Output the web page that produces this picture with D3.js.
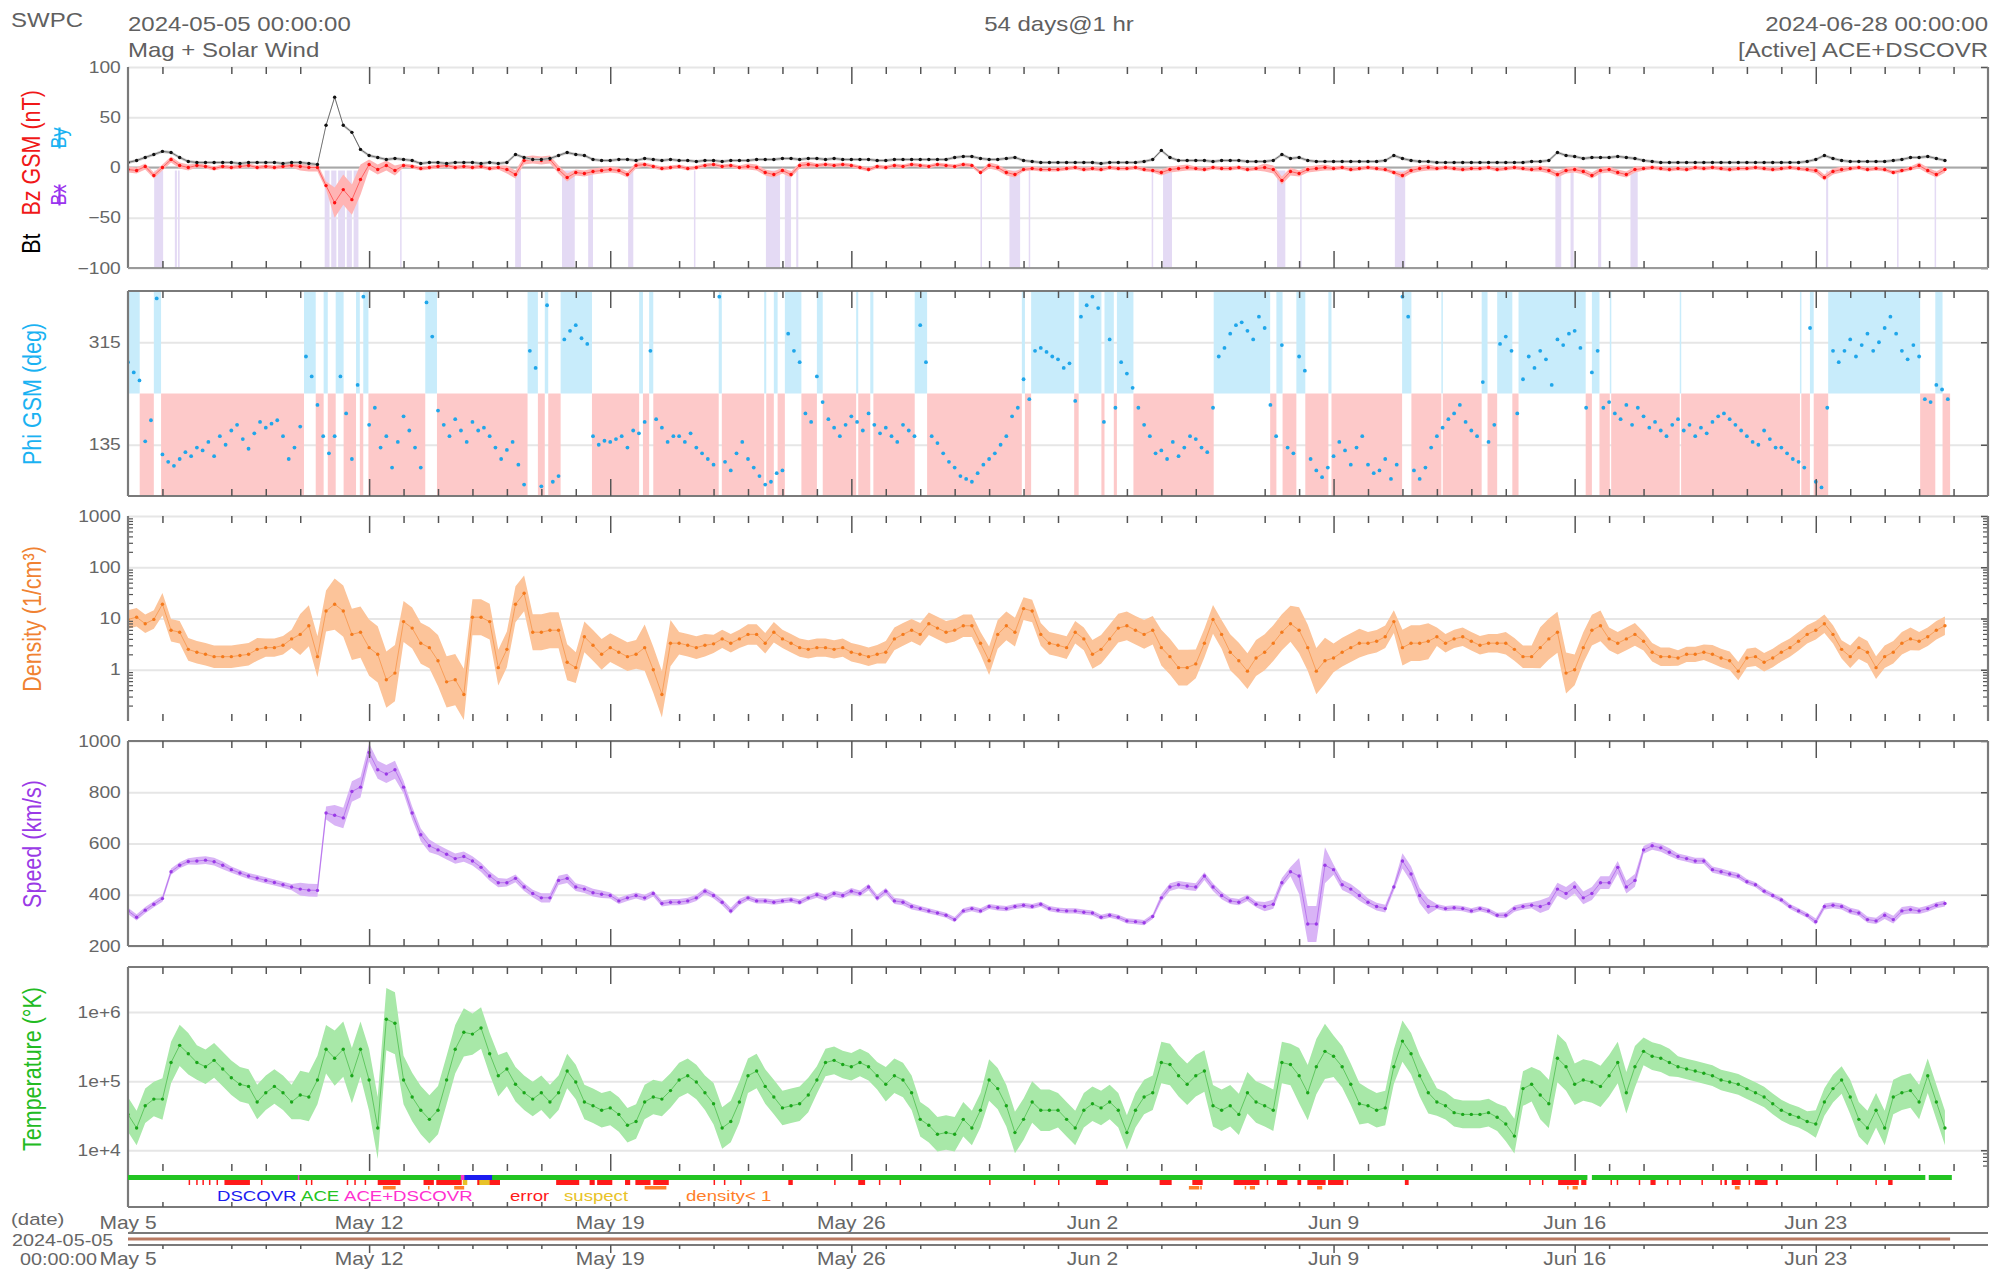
<!DOCTYPE html>
<html>
<head>
<meta charset="utf-8">
<script src="https://cdn.jsdelivr.net/npm/d3@7"></script>
<style>
  body { margin: 0; background: #fff; }
  svg { display: block; font-family: "Liberation Sans", Arial, sans-serif; }
</style>
</head>
<body>
<script>
// ---- data: 2024-05-05 00:00 UTC onwards ----
// Bt / Bz (nT), Speed (km/s), Density (1/cm3), Temperature (1000 K): one value every 6 h
const btVals = [
  5,7,10,13, 16,15,10,6, 5,5,5,5, 5,4,5,5, 5,5,4,5,
  5,4,3,42, 70,42,35,18, 12,10,8,9, 8,7,4,5, 5,4,5,5,
  5,4,5,4, 5,13,10,8, 8,9,12,15, 13,12,8,7, 7,8,8,7,
  9,8,7,8, 7,7,6,7, 7,6,7,7, 7,8,8,8, 9,9,8,9,
  9,8,9,8, 8,8,8,7, 7,8,8,8, 8,8,8,8, 10,11,11,9,
  8,8,9,10, 7,6,5,5, 5,5,5,5, 5,4,5,5, 5,5,6,8,
  17,10,7,7, 7,7,6,7, 7,7,6,6, 6,7,13,9, 10,7,6,6,
  6,6,6,6, 6,6,7,12, 9,7,6,6, 5,5,5,5, 5,5,5,5,
  5,5,5,6, 6,7,15,12, 11,9,10,10, 10,11,10,9, 7,6,5,5,
  5,5,5,5, 5,5,5,5, 5,5,5,5, 5,5,5,6, 8,12,9,7,
  6,6,6,6, 6,7,8,10, 10,11,9,7
]
const bzVals = [
  -2,-3,1,-8, 0,8,2,0, 2,1,-1,1, 0,1,2,0, 1,0,1,2,
  1,0,0,-18, -35,-22,-32,-12, 3,-2,2,-3, 2,1,-1,0, 1,2,0,1,
  0,1,-1,0, -2,-7,7,8, 7,8,-2,-10, -5,-6,-4,-3, -2,-3,-7,2,
  3,1,-1,0, 1,-1,0,2, 3,1,2,0, 1,0,-5,-7, -3,-7,2,3,
  2,3,2,3, 2,0,-2,1, 0,2,1,3, 2,1,3,2, 1,3,2,-5,
  2,0,-5,-7, -2,-1,-2,-2, -2,-1,0,-2, -1,-2,0,-1, -1,0,-2,-3,
  -5,-2,-1,0, -1,-2,0,-1, -1,0,-2,-1, 0,-2,-13,-4, -6,-2,-1,0,
  -1,0,-2,-1, 0,-1,-2,-5, -8,-3,-1,0, -1,0,-1,-2, -1,-1,0,-2,
  -1,0,-1,-2, -1,-3,-7,-3, -2,-4,-8,-3, -2,-5,-7,-2, -1,0,-1,-2,
  -1,-2,0,-1, 0,-1,-2,-1, -1,0,-1,-2, -1,0,-1,-2, -3,-10,-4,-2,
  -1,0,-2,-1, -2,-5,-3,-1, 2,-3,-7,-2
]
const speedVals = [
  337,312,340,363, 385,490,515,530, 532,535,529,515, 498,485,473,465, 456,448,439,430,
  422,418,417,719, 710,700,803,820, 955,888,871,888, 820,719,634,591, 575,558,541,549,
  532,507,473,447, 447,464,430,405, 388,388,456,464, 430,422,408,402, 397,376,388,397,
  388,405,366,371, 371,376,388,414, 397,371,337,371, 388,376,376,371, 376,380,371,388,
  400,388,405,397, 414,405,430,388, 414,376,371,354, 346,337,329,320, 303,337,346,337,
  354,349,346,354, 359,354,363,346, 340,337,337,332, 329,312,320,312, 298,295,291,315,
  388,430,439,434, 430,473,430,397, 376,371,388,363, 354,363,447,490, 473,286,286,515,
  498,439,422,397, 371,354,346,430, 532,481,397,354, 354,346,349,346, 337,346,337,320,
  320,346,354,359, 354,366,422,405, 430,388,405,447, 447,507,430,456, 575,591,583,566,
  549,541,532,532, 498,490,481,473, 451,439,414,397, 380,354,337,320, 295,354,359,354,
  337,329,303,298, 320,303,337,342, 337,346,359,366
]
const densVals = [
  9.6,10.6,7.9,9.6, 19,5.9,5.4,2.5, 2.2,2.0,1.8,1.8, 1.8,1.9,2.0,2.5, 2.7,2.7,3.0,4.0,
  4.9,7.2,1.8,14, 19,14,4.9,5.4, 2.7,2.0,0.64,0.86, 8.7,6.5,3.3,2.7, 1.5,0.58,0.64,0.33,
  10.6,10.6,8.7,1.1, 2.5,19,31,5.4, 5.4,5.9,5.9,1.4, 1.1,4.4,3.0,2.0, 2.7,2.2,1.8,2.0,
  2.7,1.0,0.33,3.3, 3.3,3.0,2.7,3.0, 3.2,4.0,3.3,4.0, 4.9,4.9,3.3,5.4, 4.0,3.3,2.7,2.5,
  2.7,2.7,2.5,2.7, 2.2,2.0,1.8,2.0, 2.2,4.0,4.9,5.9, 4.9,7.9,6.5,5.4, 5.9,7.2,7.2,3.3,
  1.5,4.9,7.2,5.4, 15.6,14,4.9,3.3, 3.0,2.7,5.4,4.0, 2.0,2.5,4.0,6.5, 7.2,5.9,4.9,5.9,
  2.7,1.8,1.1,1.1, 1.3,3.3,9.6,4.9, 2.2,1.5,0.94,1.7, 2.2,3.3,5.4,7.9, 5.9,2.7,0.94,1.5,
  1.7,2.2,2.7,3.3, 3.3,3.6,4.4,8.7, 2.7,3.3,3.3,3.6, 4.4,3.3,4.0,4.4, 3.6,3.0,3.3,3.3,
  3.3,2.5,1.8,1.8, 2.7,4.0,5.4,0.86, 1.0,2.7,5.9,7.2, 4.0,3.3,4.0,4.9, 3.6,2.2,1.8,1.8,
  1.7,2.0,2.0,2.2, 2.0,1.7,1.5,0.94, 1.7,1.8,1.4,1.7, 2.2,2.7,3.6,4.9, 5.9,7.9,4.9,2.5,
  1.8,2.7,2.2,1.1, 1.8,2.2,3.3,4.0, 3.6,4.4,5.9,7.2
]
const tempVals = [
  33,21,44,55, 55,186,330,250, 186,162,200,150, 112,90,84,50, 68,84,68,50,
  63,59,104,290, 215,290,120,290, 104,21,790,690, 104,59,38,28, 38,104,290,510,
  480,590,250,120, 150,90,68,55, 68,50,68,140, 97,50,44,38, 41,33,23,26,
  50,59,55,73, 104,120,97,68, 47,21,26,50, 120,140,84,59, 41,44,47,63,
  104,186,200,174, 162,186,162,120, 90,120,104,68, 28,23,17,18, 17,28,21,38,
  104,78,44,18, 28,50,38,38, 38,28,21,38, 47,41,50,38, 18,38,59,68,
  186,174,120,90, 120,140,44,38, 44,33,68,50, 44,38,186,174, 120,68,162,270,
  230,162,90,47, 44,38,41,162, 380,250,120,68, 50,44,35,33, 33,33,35,30,
  24,16,78,90, 63,47,215,162, 90,104,97,84, 120,186,68,162, 270,230,215,186,
  162,150,140,130, 120,104,97,90, 78,68,59,47, 38,33,30,26, 24,50,78,104,
  59,28,21,38, 21,59,68,73, 50,120,50,21
]
// Phi GSM (deg): one value every 4 h
const phiVals = [
  280,262,248,141,178,392, 118,105,98,110,122,115, 130,125,140,115,150,135, 160,170,145,128,155,175, 165,172,178,150,110,130,
  167,290,255,205,150,120, 150,255,190,110,240,395, 170,200,130,150,95,140, 185,160,130,95,385,325, 195,170,150,180,160,140,
  175,160,165,150,130,110, 126,140,100,65,300,270, 62,380,70,80,320,335, 345,322,312,150,135,142, 140,145,150,130,160,155,
  175,300,180,165,140,150, 150,140,155,130,120,110, 100,395,105,90,120,140, 110,95,80,65,70,85, 90,330,300,280,190,175,
  255,210,180,165,150,170, 185,175,160,190,170,155, 165,150,140,170,160,150, 345,280,150,138,120,105, 95,80,75,70,85,100,
  110,120,135,150,185,200, 250,215,300,305,298,290, 285,270,278,212,360,380, 395,375,175,320,200,280, 260,235,200,170,150,120,
  125,110,140,115,130,150, 145,130,122,200,290,305, 330,345,350,335,320,360, 340,205,150,310,130,120, 290,265,110,90,78,95,
  115,140,125,100,130,150, 100,85,90,110,75,100, 395,360,90,75,95,130, 150,165,180,190,205,175, 160,150,245,140,170,312,
  325,300,190,250,290,270, 300,285,240,320,310,330, 335,305,200,262,300,200, 210,190,180,205,170,200, 185,165,175,160,150,170,
  180,160,170,150,165,155, 175,185,190,180,170,160, 150,140,135,160,145,130, 130,120,110,105,95,340, 70,60,200,300,280,300,
  320,290,310,330,300,315, 340,360,330,300,285,310, 290,215,210,240,232,215
]
// per-day half width of the min/max envelope
const bzSpread    = [3,3,2,2,2,4,15,5,2,2, 2,4,4,3,3,2,2,2,3,3, 2,2,2,2,2,3,2,2,2,2, 3,2,2,4,3,2,2,3,2,2, 2,3,3,3,2,2,2,2,2,3, 2,2,3]
const speedSpread = [12,12,15,12,12,25,40,35,25,20, 18,15,18,15,12,12,12,12,10,10, 12,12,12,10,10,10,10,10,10,10, 15,15,12,18,70,20,15,30,10,10, 12,25,25,25,15,12,12,10,10,12, 12,15,12]
const densSpread  = [0.18,0.22,0.22,0.22,0.18,0.4,0.5,0.55,0.4,0.5, 0.35,0.35,0.35,0.3,0.28,0.45,0.22,0.18,0.2,0.18, 0.18,0.18,0.22,0.22,0.22,0.28,0.22,0.22,0.28,0.28, 0.35,0.28,0.35,0.35,0.45,0.28,0.22,0.35,0.18,0.18, 0.22,0.4,0.3,0.22,0.18,0.15,0.18,0.18,0.18,0.18, 0.22,0.22,0.18]
const tempSpread  = [0.25,0.3,0.25,0.25,0.25,0.35,0.4,0.45,0.35,0.35, 0.3,0.25,0.25,0.25,0.25,0.25,0.25,0.3,0.25,0.25, 0.2,0.2,0.25,0.25,0.25,0.3,0.3,0.25,0.25,0.25, 0.3,0.3,0.3,0.3,0.4,0.3,0.25,0.3,0.2,0.2, 0.25,0.35,0.3,0.3,0.2,0.15,0.15,0.15,0.15,0.2, 0.25,0.25,0.25]

// spans in days since 2024-05-05 00:00
const bzSouthSpans = [[0.76,1.02],[1.36,1.42],[1.45,1.5],[5.71,5.85],[5.9,6.05],[6.1,6.3],[6.35,6.5],[6.55,6.69],[7.9,7.93],
  [11.24,11.41],[12.6,12.97],[13.36,13.5],[14.52,14.67],[16.43,16.46],[18.52,18.93],[19.07,19.25],[19.4,19.46],
  [24.75,24.78],[25.59,25.9],[26.15,26.19],[29.72,29.75],[30.05,30.31],[33.36,33.6],[34.03,34.07],[36.78,37.08],
  [41.44,41.61],[41.88,41.97],[42.68,42.77],[43.62,43.83],[49.3,49.36],[51.36,51.39],[52.45,52.49]]
const awaySpans = [[0,0.34],[0.75,0.96],[5.11,5.45],[5.68,5.8],[6.03,6.26],[6.62,6.73],[6.83,6.98],[8.63,8.97],
  [11.6,11.9],[12.1,12.2],[12.56,13.47],[14.84,14.95],[15.13,15.25],[17.15,17.24],[18.47,18.53],[18.75,18.86],
  [19.07,19.55],[20.0,20.17],[21.14,21.2],[21.55,21.64],[22.84,23.2],[25.95,26.04],[26.22,27.47],[27.6,28.26],
  [28.35,28.62],[28.71,29.19],[31.52,33.16],[33.34,33.52],[33.92,34.18],[34.85,34.94],[36.99,37.26],[38.13,38.17],
  [39.3,39.47],[39.75,40.19],[40.37,42.32],[42.5,42.72],[43.02,43.06],[45.05,45.09],[48.54,48.58],[48.83,48.94],
  [49.36,52.03],[52.47,52.68]]
const coverageDays = [0, 52.9]
const aceSpans = [[0,42.37],[42.5,52.18],[52.28,52.95]]
const mixSpans = [[4.93,4.97],[9.66,9.77]]
const dscovrSpans = [[9.77,10.57]]
const errorSpans = [[1.76,1.8],[1.98,2.02],[2.16,2.2],[2.35,2.39],[2.57,2.61],[2.8,3.54],[3.86,3.9],
  [5.16,5.2],[5.31,5.35],[6.35,6.39],[6.57,6.61],[6.87,6.91],[7.25,7.91],[8.58,8.88],[8.95,9.69],[10.14,10.8],
  [12.43,13.1],[13.4,13.55],[13.62,14.06],[14.43,14.58],[14.73,15.17],[15.25,15.7],[17.0,17.04],[17.3,17.34],
  [17.77,17.81],[19.17,19.3],[20.5,20.54],[21.2,21.4],[21.8,21.84],[22.4,22.44],[25.0,25.04],[26.3,26.34],
  [27.0,27.04],[28.1,28.45],[29.95,30.3],[30.9,31.2],[32.1,32.85],[33.06,33.1],[33.36,33.66],[33.95,34.06],
  [34.24,34.77],[34.84,35.29],[35.38,35.42],[37.07,37.18],[40.68,40.72],[41.05,41.09],[41.52,42.12],[42.19,42.34],
  [43.04,43.08],[43.22,43.26],[43.86,43.9],[44.2,44.35],[44.68,44.72],[45.04,45.08],[45.68,45.72],[46.23,46.27],
  [46.35,46.42],[46.56,46.82],[47.05,47.09],[47.23,47.6],[47.84,47.9],[49.6,49.64],[50.73,50.77],[51.1,51.23]]
const suspectSpans = [[9.72,9.85],[10.2,10.5]]
const densLowSpans = [[7.4,7.77],[8.71,8.75],[9.47,9.76],[15.0,15.63],[30.8,31.1],[31.13,31.17],[32.42,32.46],
  [32.57,32.72],[34.52,34.67],[41.78,41.82],[41.94,42.09],[46.65,46.79]]

const weekLabels = ["May 5","May 12","May 19","May 26","Jun 2","Jun 9","Jun 16","Jun 23"]
const skippedTickDays = [2,6,15,28,32,41,45]
const legendLabels = ["DSCOVR","ACE","ACE+DSCOVR","error","suspect","density< 1"]
const legendColors = ["#1c1cf0","#22c422","#ff30d0","#ff1a1a","#e8c228","#ff7f2a"]

// ---- layout ----
const W = 2001, H = 1275
const SX = 1.2            // the source image is stretched horizontally
const X0 = 128, X1 = 1988
const DAY = 864e5
const t0 = Date.UTC(2024, 4, 5), t1 = Date.UTC(2024, 5, 28)
const x = d3.scaleUtc().domain([new Date(t0), new Date(t1)]).range([X0, X1])
const dx = d => x(new Date(t0 + d * DAY))

const svg = d3.select("body").append("svg").attr("width", W).attr("height", H)
const gray = "#666"

function label(g, s, px, py, size, fill, anchor, rot) {
  return g.append("text")
    .attr("transform", `translate(${px},${py}) scale(${SX},1)` + (rot ? " rotate(-90)" : ""))
    .attr("font-size", size).attr("fill", fill).attr("text-anchor", anchor || "start").text(s)
}

// header
label(svg, "SWPC", 11, 27, 20, "#606060")
label(svg, "2024-05-05 00:00:00", X0, 31, 20, "#606060")
label(svg, "Mag + Solar Wind", X0, 57, 20, "#606060")
label(svg, "54 days@1 hr", 1059, 31, 20, "#606060", "middle")
label(svg, "2024-06-28 00:00:00", X1, 31, 20, "#606060", "end")
label(svg, "[Active] ACE+DSCOVR", X1, 57, 20, "#606060", "end")

// daily ticks
const tickDays = d3.range(1, 54).filter(d => !skippedTickDays.includes(d))
function timeTicks(y, down, minorLen, majorLen) {
  [[tickDays.filter(d => d % 7), minorLen], [tickDays.filter(d => !(d % 7)), majorLen]].forEach(([days, len]) => {
    svg.append("g").attr("transform", `translate(0,${y})`)
      .call((down ? d3.axisBottom(x) : d3.axisTop(x)).tickValues(days.map(d => new Date(t0 + d * DAY))).tickSize(len).tickFormat(""))
      .call(a => a.select(".domain").remove())
      .call(a => a.selectAll("line").attr("stroke", "#555").attr("stroke-width", 1.5))
  })
}

function panel(p) {
  const g = svg.append("g")
  const id = "clip" + p.top
  svg.append("clipPath").attr("id", id).append("rect").attr("x", X0).attr("y", p.top).attr("width", X1 - X0).attr("height", p.bot - p.top)
  // gridlines
  g.append("g").attr("transform", `translate(${X0},0)`)
    .call(d3.axisLeft(p.y).tickValues(p.ticks).tickSize(-(X1 - X0)).tickFormat(""))
    .call(a => a.select(".domain").remove())
    .call(a => a.selectAll("line").attr("stroke", "#e6e6e6").attr("stroke-width", 2))
  const body = g.append("g").attr("clip-path", `url(#${id})`)
  // left labels
  g.append("g").attr("transform", `translate(${X0},0)`)
    .call(d3.axisLeft(p.y).tickValues(p.ticks).tickSize(0).tickPadding(6).tickFormat(p.fmt))
    .call(a => a.select(".domain").remove())
    .call(a => a.selectAll("text").attr("font-size", 16).attr("fill", gray).attr("font-family", "Liberation Sans, Arial")
      .attr("transform", `scale(${SX},1)`))
  // right inward ticks
  g.append("g").attr("transform", `translate(${X1},0)`)
    .call(d3.axisLeft(p.y).tickValues(p.ticks).tickSize(7).tickFormat(""))
    .call(a => a.select(".domain").remove())
    .call(a => a.selectAll("line").attr("stroke", "#555").attr("stroke-width", 1.5))
  if (p.minor) p.minor.forEach(([pos, len]) => {
    g.append("g").attr("transform", `translate(${pos},0)`)
      .call((pos === X0 ? d3.axisRight : d3.axisLeft)(p.y).tickValues(p.minorTicks).tickSize(len).tickFormat(""))
      .call(a => a.select(".domain").remove())
      .call(a => a.selectAll("line").attr("stroke", "#555").attr("stroke-width", 1.2))
  })
  const fb = p.frameBot || p.bot
  const frame = svg.append("g").attr("stroke", "#7a7a7a").attr("stroke-width", 2.2)
  frame.append("line").attr("x1", X0).attr("x2", X0).attr("y1", p.top).attr("y2", fb)
  frame.append("line").attr("x1", X1).attr("x2", X1).attr("y1", p.top).attr("y2", fb)
  if (p.topLine) frame.append("line").attr("x1", X0).attr("x2", X1).attr("y1", p.top).attr("y2", p.top)
  if (p.botLine) frame.append("line").attr("x1", X0).attr("x2", X1).attr("y1", fb).attr("y2", fb).attr("stroke", p.botLine)
  timeTicks(p.top, true, 7, 17)
  timeTicks(p.bot, false, 7, 17)
  return body
}

function series(body, vals, step, y, color, bandColor, lo, hi) {
  const pts = vals.map((v, i) => ({ d: i * step, v, i }))
  if (bandColor) body.append("path").datum(pts)
    .attr("d", d3.area().x(p => dx(p.d)).y0(p => y(lo(p))).y1(p => y(hi(p))))
    .attr("fill", bandColor)
  body.append("path").datum(pts).attr("d", d3.line().x(p => dx(p.d)).y(p => y(p.v)))
    .attr("fill", "none").attr("stroke", color).attr("stroke-width", 1).attr("opacity", 0.5)
  body.append("g").selectAll("circle").data(pts).join("circle")
    .attr("cx", p => dx(p.d)).attr("cy", p => y(p.v)).attr("r", 1.7).attr("fill", color)
}

// ---- Bt / Bz ----
const yB = d3.scaleLinear().domain([-100, 100]).range([268, 67])
const bBody = panel({ top: 67, bot: 268, y: yB, ticks: [100, 50, 0, -50, -100], fmt: d3.format("d"), botLine: "#9a9a9a" })
bBody.append("g").selectAll("rect").data(bzSouthSpans).join("rect")
  .attr("x", s => dx(s[0])).attr("width", s => Math.max(1.5, dx(s[1]) - dx(s[0])))
  .attr("y", yB(-3)).attr("height", yB(-100) - yB(-3)).attr("fill", "#e4daf4")
bBody.append("line").attr("x1", X0).attr("x2", X1).attr("y1", yB(0)).attr("y2", yB(0)).attr("stroke", "#a8a8a8").attr("stroke-width", 2)
series(bBody, bzVals, 0.25, yB, "#ff1010", "#ffb4b4", p => p.v - bzSpread[Math.floor(p.d)], p => p.v + bzSpread[Math.floor(p.d)])
series(bBody, btVals, 0.25, yB, "#111", "#c8c8c8", p => p.v - 1.5, p => p.v + 1.5)

// ---- Phi ----
const yP = d3.scaleLinear().domain([45, 405]).range([496, 291])
const pBody = panel({ top: 291, bot: 496, y: yP, ticks: [315, 135], fmt: d3.format("d"), topLine: true, botLine: "#7a7a7a" })
const towardSpans = []
let cur = coverageDays[0]
awaySpans.forEach(([a, b]) => { if (a > cur) towardSpans.push([cur, a]); cur = Math.max(cur, b) })
if (cur < coverageDays[1]) towardSpans.push([cur, coverageDays[1]])
pBody.append("g").selectAll("rect").data(awaySpans).join("rect")
  .attr("x", s => dx(s[0])).attr("width", s => Math.max(1.5, dx(s[1]) - dx(s[0])))
  .attr("y", yP(405)).attr("height", yP(225) - yP(405)).attr("fill", "#c8ecfb")
pBody.append("g").selectAll("rect").data(towardSpans).join("rect")
  .attr("x", s => dx(s[0])).attr("width", s => Math.max(1.5, dx(s[1]) - dx(s[0])))
  .attr("y", yP(225)).attr("height", yP(45) - yP(225)).attr("fill", "#fdc9c9")
pBody.append("g").selectAll("circle").data(phiVals).join("circle")
  .attr("cx", (v, i) => dx(i / 6)).attr("cy", v => yP(v)).attr("r", 1.9).attr("fill", "#1fa6ea")

// ---- Density ----
const yD = d3.scaleLog().domain([0.1, 1000]).range([721, 516])
const logMinor = lo => d3.range(Math.log10(lo), 4).flatMap(e => d3.range(2, 10).map(m => m * Math.pow(10, e)))
const dBody = panel({ top: 516, bot: 721, y: yD, ticks: [1000, 100, 10, 1], fmt: d => String(d),
  minor: [[X0, 5], [X1, 5]], minorTicks: logMinor(0.1).filter(v => v < 1000) })
series(dBody, densVals, 0.25, yD, "#f47a1c", "#fcc49a", p => p.v / Math.pow(10, densSpread[Math.floor(p.d)]), p => p.v * Math.pow(10, densSpread[Math.floor(p.d)]))

// ---- Speed ----
const yS = d3.scaleLinear().domain([200, 1000]).range([946, 741])
const sBody = panel({ top: 741, bot: 946, y: yS, ticks: [1000, 800, 600, 400, 200], fmt: d3.format("d"), topLine: true, botLine: "#7a7a7a" })
series(sBody, speedVals, 0.25, yS, "#9a3ae6", "#d9b4f6", p => p.v - speedSpread[Math.floor(p.d)], p => p.v + speedSpread[Math.floor(p.d)])

// ---- Temperature ----
const yT = d3.scaleLog().domain([5000, 4.5e6]).range([1171, 967])
const tBody = panel({ top: 967, bot: 1171, frameBot: 1207, y: yT, ticks: [1e6, 1e5, 1e4], fmt: d3.format(".0e"),
  topLine: true, botLine: "#7a7a7a", minor: [[X1, 5]], minorTicks: logMinor(1000).filter(v => v > 5000 && v < 4.5e6) })
series(tBody, tempVals.map(v => v * 1000), 0.25, yT, "#1aa61a", "#a8e8a8",
  p => p.v / Math.pow(10, tempSpread[Math.floor(p.d)]), p => p.v * Math.pow(10, tempSpread[Math.floor(p.d)]))
timeTicks(1207, false, 5, 5)

// ---- status bar ----
function spans(list, y, h, color) {
  svg.append("g").selectAll("rect").data(list).join("rect")
    .attr("x", s => dx(s[0])).attr("width", s => Math.max(1.5, dx(s[1]) - dx(s[0])))
    .attr("y", y).attr("height", h).attr("fill", color)
}
spans(aceSpans, 1175, 5, legendColors[1])
spans(mixSpans, 1175, 5, legendColors[2])
spans(dscovrSpans, 1175, 5, legendColors[0])
spans(errorSpans, 1180, 5, legendColors[3])
spans(suspectSpans, 1180, 5, legendColors[4])
spans(densLowSpans, 1186, 3.5, legendColors[5])
const legendX = [217, 301, 344, 510, 564, 686]
legendLabels.forEach((s, i) => label(svg, s, legendX[i], 1201, 15.5, legendColors[i]))

// ---- date axes ----
weekLabels.forEach((s, i) => {
  label(svg, s, dx(i * 7), 1229, 17.5, gray, "middle")
  label(svg, s, dx(i * 7), 1265, 17.5, gray, "middle")
})
label(svg, "(date)", 11, 1225, 17, gray)
label(svg, "2024-05-05", 12, 1246, 16.5, gray)
label(svg, "00:00:00", 97, 1265, 16.5, gray, "end")
const box = svg.append("g").attr("stroke", "#7a7a7a").attr("stroke-width", 2.2)
box.append("line").attr("x1", X0).attr("x2", X1).attr("y1", 1233).attr("y2", 1233)
box.append("line").attr("x1", X0).attr("x2", X1).attr("y1", 1245).attr("y2", 1245)
svg.append("line").attr("x1", dx(coverageDays[0])).attr("x2", dx(coverageDays[1])).attr("y1", 1239).attr("y2", 1239)
  .attr("stroke", "#b87a62").attr("stroke-width", 3)
timeTicks(1245, true, 4, 8)

// ---- y titles ----
const yt = svg.append("g")
const bt = yt.append("text").attr("transform", `translate(40,172) scale(${SX},1) rotate(-90)`)
  .attr("font-size", 21.5).attr("text-anchor", "middle")
bt.append("tspan").attr("fill", "#000").text("Bt")
bt.append("tspan").attr("dx", 18).attr("fill", "#f01818").text("Bz GSM (nT)")
label(yt, "Bx", 66, 195, 18, "#9933ee", "middle", true).attr("text-decoration", "line-through")
label(yt, "By", 66, 138, 18, "#1ab2f2", "middle", true).attr("text-decoration", "line-through")
label(yt, "Phi GSM (deg)", 41, 394, 21.5, "#1ab2f2", "middle", true)
label(yt, "Density (1/cm³)", 41, 619, 21.5, "#f08232", "middle", true)
label(yt, "Speed (km/s)", 41, 844, 21.5, "#9a3ae6", "middle", true)
label(yt, "Temperature (°K)", 41, 1069, 21.5, "#22bb22", "middle", true)
</script>
</body>
</html>
